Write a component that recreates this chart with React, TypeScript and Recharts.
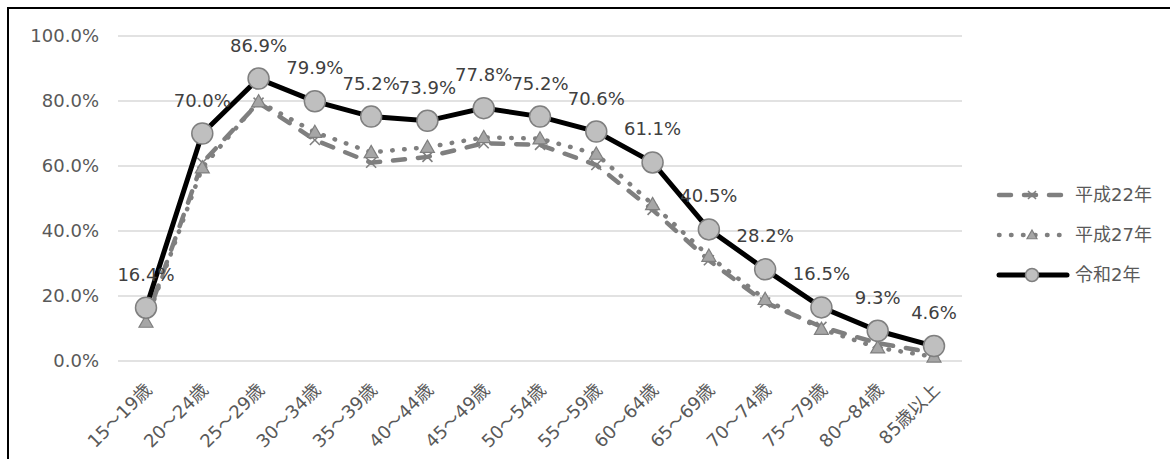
import React from "react";
import { LineChart, Line, XAxis, YAxis, CartesianGrid, LabelList } from "recharts";

const categories = [
  "15～19歳", "20～24歳", "25～29歳", "30～34歳", "35～39歳",
  "40～44歳", "45～49歳", "50～54歳", "55～59歳", "60～64歳",
  "65～69歳", "70～74歳", "75～79歳", "80～84歳", "85歳以上",
];
const heisei22 = [12.5, 61.0, 79.5, 68.0, 61.0, 62.8, 67.0, 66.5, 60.3, 46.5, 31.0, 18.0, 10.5, 5.5, 2.5];
const heisei27 = [12.0, 59.5, 79.8, 70.4, 64.2, 65.8, 68.8, 68.4, 63.7, 48.2, 32.3, 19.0, 9.8, 4.1, 1.3];
const reiwa2 = [16.4, 70.0, 86.9, 79.9, 75.2, 73.9, 77.8, 75.2, 70.6, 61.1, 40.5, 28.2, 16.5, 9.3, 4.6];
const yTicks = [0, 20, 40, 60, 80, 100];
const seriesNames = { h22: "平成22年", h27: "平成27年", r2: "令和2年" };

const data = categories.map((age, i) => ({
  age,
  h22: heisei22[i],
  h27: heisei27[i],
  r2: reiwa2[i],
}));

const FONT = '"DejaVu Sans", Verdana, "Noto Sans CJK JP", sans-serif';
const GRAY = "#7f7f7f";
const TEXT = "#595959";

const Cross = ({ cx, cy, s = 5 }: { cx: number; cy: number; s?: number }) => (
  <g stroke={GRAY} strokeWidth={1.6}>
    <line x1={cx - s} y1={cy - s} x2={cx + s} y2={cy + s} />
    <line x1={cx - s} y1={cy + s} x2={cx + s} y2={cy - s} />
  </g>
);

const Tri = ({ cx, cy, s = 7 }: { cx: number; cy: number; s?: number }) => (
  <polygon
    points={`${cx},${cy - s} ${cx + s},${cy + s * 0.75} ${cx - s},${cy + s * 0.75}`}
    fill="#a6a6a6"
    stroke={GRAY}
    strokeWidth={1.2}
  />
);

const Circ = ({ cx, cy, r = 10.5 }: { cx: number; cy: number; r?: number }) => (
  <circle cx={cx} cy={cy} r={r} fill="#bfbfbf" stroke={GRAY} strokeWidth={1.5} />
);

const AgeTick = ({ x, y, payload }: any) => {
  const tx = x + 7;
  const ty = y + 30;
  return (
    <text
      x={tx}
      y={ty}
      transform={`rotate(-45 ${tx} ${ty})`}
      textAnchor="end"
      fill={TEXT}
      fontSize={18}
      fontFamily={FONT}
    >
      {payload.value}
    </text>
  );
};

const ValueLabel = (props: any) => {
  const { x, y, value } = props;
  return (
    <text x={x} y={y - 27} textAnchor="middle" fill="#404040" fontSize={18} fontFamily={FONT}>
      {`${Number(value).toFixed(1)}%`}
    </text>
  );
};

function LegendBox() {
  // line samples 997..1068 on the page, text at 1075
  const rows = [
    { key: "h22", y: 15 },
    { key: "h27", y: 55 },
    { key: "r2", y: 95 },
  ];
  return (
    <svg
      width={180}
      height={115}
      style={{ position: "absolute", left: 990, top: 180 }}
    >
      {rows.map((r) => (
        <g key={r.key}>
          {r.key === "h22" && (
            <>
              <line x1={9} y1={r.y} x2={72} y2={r.y} stroke={GRAY} strokeWidth={4.5} strokeDasharray="12 13" strokeLinecap="round" />
              <Cross cx={42} cy={r.y} s={4} />
            </>
          )}
          {r.key === "h27" && (
            <>
              <line x1={9} y1={r.y} x2={72} y2={r.y} stroke={GRAY} strokeWidth={4.5} strokeDasharray="0.5 11.5" strokeLinecap="round" />
              <Tri cx={42} cy={r.y} s={5} />
            </>
          )}
          {r.key === "r2" && (
            <>
              <line x1={9} y1={r.y} x2={77} y2={r.y} stroke="#000" strokeWidth={5} strokeLinecap="round" />
              <Circ cx={42} cy={r.y} r={6.5} />
            </>
          )}
          <text x={85} y={r.y + 6} fill={TEXT} fontSize={18} fontFamily={FONT}>
            {seriesNames[r.key as keyof typeof seriesNames]}
          </text>
        </g>
      ))}
    </svg>
  );
}

export default function App() {
  return (
    <div>
      <div
        style={{
          position: "absolute",
          left: 7,
          top: 7,
          width: 1163,
          height: 452,
          borderTop: "2px solid #000",
          borderLeft: "2px solid #000",
          boxSizing: "border-box",
        }}
      />
      <div style={{ position: "absolute", left: 9, top: 9 }}>
        <LineChart
          width={1159}
          height={448}
          data={data}
          margin={{ top: 27, right: 206, left: 0, bottom: 0 }}
        >
          <CartesianGrid horizontal vertical={false} stroke="#d9d9d9" strokeWidth={1.5} />
          <XAxis
            dataKey="age"
            height={96}
            axisLine={false}
            tickLine={false}
            tickSize={0}
            tickMargin={0}
            interval={0}
            padding={{ left: 28, right: 28 }}
            tick={<AgeTick />}
          />
          <YAxis
            width={109}
            domain={[0, 100]}
            ticks={yTicks}
            axisLine={false}
            tickLine={false}
            tickSize={0}
            tickMargin={19}
            tickFormatter={(v: number) => `${v.toFixed(1)}%`}
            tick={{ fill: TEXT, fontSize: 18, fontFamily: FONT }}
          />
          <Line
            dataKey="h22"
            stroke={GRAY}
            strokeWidth={4.5}
            strokeDasharray="12 13"
            strokeLinecap="round"
            isAnimationActive={false}
            dot={(p: any) => <Cross key={`x${p.index}`} cx={p.cx} cy={p.cy} />}
            activeDot={false}
          />
          <Line
            dataKey="h27"
            stroke={GRAY}
            strokeWidth={4.5}
            strokeDasharray="0.5 11.5"
            strokeLinecap="round"
            isAnimationActive={false}
            dot={(p: any) => <Tri key={`t${p.index}`} cx={p.cx} cy={p.cy} />}
            activeDot={false}
          />
          <Line
            dataKey="r2"
            stroke="#000"
            strokeWidth={5}
            isAnimationActive={false}
            dot={(p: any) => <Circ key={`c${p.index}`} cx={p.cx} cy={p.cy} />}
            activeDot={false}
          >
            <LabelList dataKey="r2" content={<ValueLabel />} />
          </Line>
        </LineChart>
      </div>
      <LegendBox />
    </div>
  );
}
